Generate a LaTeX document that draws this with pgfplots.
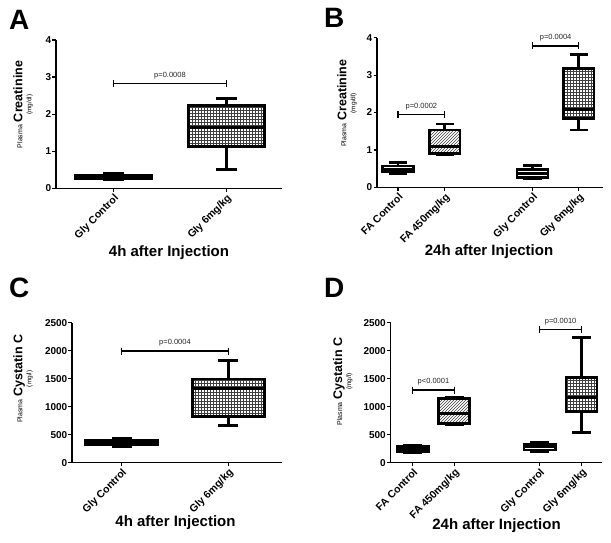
\documentclass[border=0pt]{standalone}
\usepackage{fontspec}
\setmainfont{Liberation Sans}
\usepackage{pgfplots}
\pgfplotsset{compat=1.18}
\usepgfplotslibrary{statistics}
\usetikzlibrary{patterns}

\tikzset{plab/.style={font=\fontsize{7.5}{8}\selectfont, inner sep=2pt, text=black!85}}
\pgfplotsset{
  panel/.style={
    scale only axis, clip=false,
    axis lines=left, axis line style={-, line width=1.4pt},
    tick align=outside, major tick length=3.5pt,
    tick style={line width=1.2pt, black},
    /pgf/number format/assume math mode=true,
    /pgf/number format/1000 sep={},
    yticklabel style={font=\fontsize{10}{10}\selectfont\bfseries, inner sep=1pt},
    xticklabel style={font=\fontsize{10.5}{10.5}\selectfont\bfseries, rotate=45, anchor=north east, inner sep=1pt},
    ymin=0,
    ylabel style={align=center, anchor=center},
    boxplot/draw direction=y,
  },
  bx/.style={line width=2.7pt, black},
  ctrl/.style={bx, boxplot/every box/.style={fill=white}},
  grd/.style={bx, boxplot/every box/.style={pattern=grid, pattern color=black!75}},
  hat/.style={bx, boxplot/every box/.style={pattern=north east lines, pattern color=black!75}},
  pbar/.style={black, line width=1.3pt, mark=|, mark size=3.5pt, mark options={line width=1.3pt, solid}},
}
\newcommand{\ylab}[2]{{\fontsize{7}{8}\selectfont Plasma} {\fontsize{12.5}{13}\selectfont\bfseries #1}\\[-3pt]{\fontsize{6.5}{7}\selectfont #2}}

\begin{document}
\begin{tikzpicture}
\useasboundingbox (0,0) rectangle (611pt,542pt);

% ---------- A ----------
\begin{axis}[panel, at={(56pt,353.7pt)}, anchor=south west,
  width=225.7pt, height=148.3pt, xmin=0.49, xmax=2.49, ymax=4,
  ytick={0,1,2,3,4}, xtick={1,2}, xticklabels={Gly Control, Gly 6mg/kg},
  ylabel={\ylab{Creatinine}{(mg/dl)}},
  ylabel style={at={(axis description cs:-0.146,0.565)}},
  boxplot/box extend=0.67, boxplot/whisker extend=0.18]
\addplot[ctrl, boxplot prepared={lower whisker=0.22, lower quartile=0.25, median=0.30, upper quartile=0.36, upper whisker=0.40, draw position=1}] coordinates {};
\addplot[grd, boxplot prepared={lower whisker=0.50, lower quartile=1.12, median=1.64, upper quartile=2.24, upper whisker=2.42, draw position=2}] coordinates {};
\addplot[pbar] coordinates {(1,2.83) (2,2.83)} node[pos=0.5, above=2pt, plab] {p=0.0008};
\end{axis}

% ---------- B ----------
\begin{axis}[panel, at={(377pt,354.7pt)}, anchor=south west,
  width=226pt, height=149.6pt, xmin=0.55, xmax=5.39, ymax=4,
  ytick={0,1,2,3,4}, xtick={1,2,3.88,4.87},
  xticklabels={FA Control, FA 450mg/kg, Gly Control, Gly 6mg/kg},
  ylabel={\ylab{Creatinine}{(mg/dl)}},
  ylabel style={at={(axis description cs:-0.133,0.563)}},
  boxplot/box extend=0.66, boxplot/whisker extend=0.39]
\addplot[ctrl, boxplot prepared={lower whisker=0.36, lower quartile=0.42, median=0.48, upper quartile=0.57, upper whisker=0.66, draw position=1}] coordinates {};
\addplot[hat, boxplot prepared={lower whisker=0.86, lower quartile=0.91, median=1.10, upper quartile=1.53, upper whisker=1.69, draw position=2}] coordinates {};
\addplot[ctrl, boxplot prepared={lower whisker=0.22, lower quartile=0.27, median=0.37, upper quartile=0.48, upper whisker=0.59, draw position=3.88}] coordinates {};
\addplot[grd, boxplot prepared={lower whisker=1.53, lower quartile=1.84, median=2.08, upper quartile=3.18, upper whisker=3.56, draw position=4.87}] coordinates {};
\addplot[pbar] coordinates {(1,1.95) (2,1.95)} node[pos=0.5, above=2pt, plab] {p=0.0002};
\addplot[pbar] coordinates {(3.88,3.78) (4.87,3.78)} node[pos=0.5, above=2pt, plab] {p=0.0004};
\end{axis}

% ---------- C ----------
\begin{axis}[panel, at={(72pt,79.3pt)}, anchor=south west,
  width=209.7pt, height=140pt, xmin=53.4, xmax=250.1, ymax=2500,
  ytick={0,500,1000,1500,2000,2500}, xtick={100,200}, xticklabels={Gly Control, Gly 6mg/kg},
  ylabel={\ylab{Cystatin C}{(mg/l)}},
  ylabel style={at={(axis description cs:-0.234,0.60)}},
  boxplot/box extend=67.5, boxplot/whisker extend=19]
\addplot[ctrl, boxplot prepared={lower whisker=290, lower quartile=320, median=357, upper quartile=400, upper whisker=430, draw position=100}] coordinates {};
\addplot[grd, boxplot prepared={lower whisker=667, lower quartile=821, median=1327, upper quartile=1494, upper whisker=1821, draw position=200}] coordinates {};
\addplot[pbar] coordinates {(100,1994) (200,1994)} node[pos=0.5, above=2pt, plab] {p=0.0004};
\end{axis}

% ---------- D ----------
\begin{axis}[panel, at={(390.5pt,79.3pt)}, anchor=south west,
  width=211.2pt, height=140pt, xmin=46.5, xmax=555.5, ymax=2500,
  ytick={0,500,1000,1500,2000,2500}, xtick={100,200,406,507},
  xticklabels={FA Control, FA 450mg/kg, Gly Control, Gly 6mg/kg},
  ylabel={\ylab{Cystatin C}{(mg/l)}},
  ylabel style={at={(axis description cs:-0.226,0.58)}},
  boxplot/box extend=75, boxplot/whisker extend=46]
\addplot[ctrl, boxplot prepared={lower whisker=185, lower quartile=200, median=250, upper quartile=300, upper whisker=315, draw position=100}] coordinates {};
\addplot[hat, boxplot prepared={lower whisker=679, lower quartile=702, median=881, upper quartile=1149, upper whisker=1161, draw position=200}] coordinates {};
\addplot[ctrl, boxplot prepared={lower whisker=196, lower quartile=226, median=286, upper quartile=333, upper whisker=357, draw position=406}] coordinates {};
\addplot[grd, boxplot prepared={lower whisker=536, lower quartile=911, median=1167, upper quartile=1524, upper whisker=2232, draw position=507}] coordinates {};
\addplot[pbar] coordinates {(100,1298) (200,1298)} node[pos=0.5, above=2pt, plab] {p<0.0001};
\addplot[pbar] coordinates {(406,2381) (507,2381)} node[pos=0.5, above=2pt, plab] {p=0.0010};
\end{axis}

% panel letters and titles
\node[anchor=base west, inner sep=0pt, font=\fontsize{28}{28}\selectfont\bfseries] at (9pt,512pt) {A};
\node[anchor=base west, inner sep=0pt, font=\fontsize{28}{28}\selectfont\bfseries] at (324pt,514pt) {B};
\node[anchor=base west, inner sep=0pt, font=\fontsize{28}{28}\selectfont\bfseries] at (9pt,245pt) {C};
\node[anchor=base west, inner sep=0pt, font=\fontsize{28}{28}\selectfont\bfseries] at (324pt,245pt) {D};
\node[font=\fontsize{15}{15}\selectfont\bfseries] at (169pt,289pt) {4h after Injection};
\node[font=\fontsize{15}{15}\selectfont\bfseries] at (489pt,290pt) {24h after Injection};
\node[font=\fontsize{15}{15}\selectfont\bfseries] at (175.5pt,19pt) {4h after Injection};
\node[font=\fontsize{15}{15}\selectfont\bfseries] at (496.5pt,16pt) {24h after Injection};
\end{tikzpicture}
\end{document}
